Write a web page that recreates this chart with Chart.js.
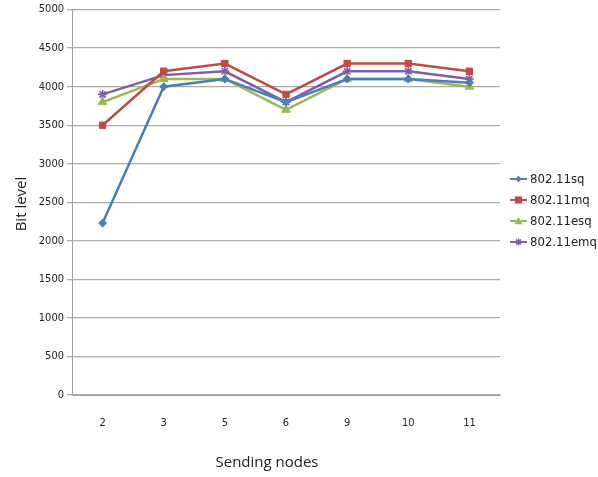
<!DOCTYPE html>
<html>
<head>
<meta charset="utf-8">
<script src="https://cdn.jsdelivr.net/npm/chart.js@4/dist/chart.umd.min.js"></script>
<style>
  html, body { margin: 0; padding: 0; background: #fff; overflow: hidden; }
  #wrap { position: relative; width: 598px; height: 477px; }
  #legend { position: absolute; left: 509px; top: 168px; }
  .item { height: 21px; display: flex; align-items: center; white-space: nowrap;
          font: 13px "Liberation Sans Narrow", "DejaVu Sans Condensed", sans-serif; color: #222; }
  .item canvas { display: block; margin-right: 2px; }
  .axis-title { position: absolute; text-align: center; color: #222; line-height: 22px;
                font: 15px "Open Sans", "Liberation Sans", sans-serif; }
  #xtitle { left: 167px; width: 200px; top: 451px; }
  #ytitle { left: -80px; width: 200px; top: 194px; transform: rotate(-90deg); }
</style>
</head>
<body>
<div id="wrap">
  <canvas id="c" width="598" height="477"></canvas>
  <div id="legend"></div>
  <div id="xtitle" class="axis-title">Sending nodes</div>
  <div id="ytitle" class="axis-title">Bit level</div>
</div>
<script>
// Sending nodes on the x axis
const nodes = ['2', '3', '5', '6', '9', '10', '11'];

// Bit level per scheme
const sq  = [2230, 4000, 4100, 3800, 4100, 4100, 4050];
const mq  = [3500, 4200, 4300, 3900, 4300, 4300, 4200];
const esq = [3800, 4100, 4100, 3700, 4100, 4100, 4000];
const emq = [3900, 4150, 4200, 3800, 4200, 4200, 4100];

const seriesNames = ['802.11sq', '802.11mq', '802.11esq', '802.11emq'];
const yTickValues = [0, 500, 1000, 1500, 2000, 2500, 3000, 3500, 4000, 4500, 5000];

const colors = ['#4a7ebb', '#be4b48', '#98b954', '#7d60a0'];
const markers = ['rectRot', 'rect', 'triangle', 'star'];
const markerSize = [4, 4.5, 5, 4.5];

const gridGrey = 'rgb(170, 170, 170)';
const axisGrey = 'rgb(160, 160, 160)';
const tickFont = { family: '"Liberation Sans Narrow", "DejaVu Sans Condensed", "Liberation Sans", sans-serif', size: 11 };

// Legend swatch: short line with the series marker in the middle
function drawSwatch(cv, style, r, color) {
  const ctx = cv.getContext('2d');
  const x = cv.width / 2, y = cv.height / 2;
  ctx.strokeStyle = color;
  ctx.fillStyle = color;
  ctx.lineWidth = 2;
  ctx.beginPath();
  ctx.moveTo(1, y); ctx.lineTo(cv.width - 1, y);
  ctx.stroke();
  ctx.lineWidth = 1.5;
  ctx.beginPath();
  if (style === 'rect') {
    ctx.rect(x - r, y - r, 2 * r, 2 * r); ctx.fill();
  } else if (style === 'rectRot') {
    ctx.moveTo(x, y - r); ctx.lineTo(x + r, y); ctx.lineTo(x, y + r); ctx.lineTo(x - r, y);
    ctx.closePath(); ctx.fill();
  } else if (style === 'triangle') {
    ctx.moveTo(x, y - r); ctx.lineTo(x + r, y + r * 0.8); ctx.lineTo(x - r, y + r * 0.8);
    ctx.closePath(); ctx.fill();
  } else {
    ctx.moveTo(x - r, y); ctx.lineTo(x + r, y);
    ctx.moveTo(x, y - r); ctx.lineTo(x, y + r);
    ctx.moveTo(x - r * 0.7, y - r * 0.7); ctx.lineTo(x + r * 0.7, y + r * 0.7);
    ctx.moveTo(x - r * 0.7, y + r * 0.7); ctx.lineTo(x + r * 0.7, y - r * 0.7);
    ctx.stroke();
  }
}

const seriesData = [sq, mq, esq, emq];

const chart = new Chart(document.getElementById('c'), {
  type: 'line',
  data: {
    labels: nodes,
    datasets: seriesData.map((vals, i) => ({
      label: seriesNames[i],
      data: vals,
      borderColor: colors[i],
      backgroundColor: colors[i],
      borderWidth: 2.5,
      tension: 0,
      pointStyle: markers[i],
      pointRadius: markerSize[i],
      pointBorderWidth: markers[i] === 'star' ? 1.6 : 1,
      fill: false
    }))
  },
  options: {
    responsive: false,
    devicePixelRatio: 1,
    animation: false,
    layout: { padding: { left: 0, top: 8, right: 98, bottom: 0 } },
    plugins: {
      legend: { display: false },
      tooltip: { enabled: false }
    },
    scales: {
      x: {
        offset: true,
        afterFit(s) { s.height = 82; },
        grid: { display: false },
        border: { display: true, color: axisGrey, width: 1 },
        ticks: { font: tickFont, color: '#222', padding: 14 }
      },
      y: {
        min: 0,
        max: 5000,
        afterFit(s) { s.width = 72; },
        afterBuildTicks(s) { s.ticks = yTickValues.map(v => ({ value: v })); },
        grid: { color: gridGrey, lineWidth: 1.3, tickLength: 5 },
        border: { display: true, color: axisGrey, width: 1 },
        ticks: { font: tickFont, color: '#222', padding: 3, callback: v => String(v) }
      }
    }
  }
});

// Build the legend from the chart's datasets
const legend = document.getElementById('legend');
chart.data.datasets.forEach((ds, i) => {
  const row = document.createElement('div');
  row.className = 'item';
  const sw = document.createElement('canvas');
  sw.width = 19; sw.height = 12;
  drawSwatch(sw, markers[i], markerSize[i] * 0.8, ds.borderColor);
  const label = document.createElement('span');
  label.textContent = ds.label;
  row.appendChild(sw);
  row.appendChild(label);
  legend.appendChild(row);
});
</script>
</body>
</html>
